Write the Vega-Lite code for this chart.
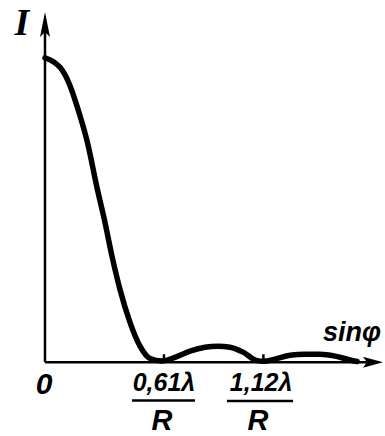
{
  "$schema": "https://vega.github.io/schema/vega-lite/v6.json",
  "width": 385,
  "height": 436,
  "autosize": {"type": "fit", "contains": "padding"},
  "padding": 0,
  "background": "white",
  "config": {"view": {"stroke": null}},
  "datasets": {
    "axes": [
      {"x": 0, "y": 0, "x2": 0, "y2": 1.1},
      {"x": 0, "y": 0, "x2": 1.68, "y2": 0},
      {"x": 0.61, "y": 0, "x2": 0.61, "y2": 0.026},
      {"x": 1.12, "y": 0, "x2": 1.12, "y2": 0.026}
    ],
    "bars": [
      {"x": 0.446, "y": -0.126, "x2": 0.769, "y2": -0.126},
      {"x": 0.933, "y": -0.128, "x2": 1.272, "y2": -0.128}
    ],
    "curve": [
      {"x": 0.0, "y": 1.0},
      {"x": 0.0256, "y": 0.9934},
      {"x": 0.0513, "y": 0.9836},
      {"x": 0.0769, "y": 0.9689},
      {"x": 0.1026, "y": 0.9443},
      {"x": 0.1282, "y": 0.9082},
      {"x": 0.1538, "y": 0.8623},
      {"x": 0.1795, "y": 0.8098},
      {"x": 0.2154, "y": 0.7279},
      {"x": 0.2667, "y": 0.5738},
      {"x": 0.3077, "y": 0.459},
      {"x": 0.3436, "y": 0.348},
      {"x": 0.3846, "y": 0.239},
      {"x": 0.4359, "y": 0.131},
      {"x": 0.4872, "y": 0.0525},
      {"x": 0.5385, "y": 0.012},
      {"x": 0.6, "y": 0.004},
      {"x": 0.6667, "y": 0.016},
      {"x": 0.7436, "y": 0.036},
      {"x": 0.8205, "y": 0.049},
      {"x": 0.8872, "y": 0.0525},
      {"x": 0.9487, "y": 0.049},
      {"x": 1.0154, "y": 0.033},
      {"x": 1.0872, "y": 0.005},
      {"x": 1.12, "y": 0.003},
      {"x": 1.1795, "y": 0.01},
      {"x": 1.2564, "y": 0.023},
      {"x": 1.3333, "y": 0.026},
      {"x": 1.4103, "y": 0.026},
      {"x": 1.4872, "y": 0.02},
      {"x": 1.5641, "y": 0.007},
      {"x": 1.6, "y": 0.002}
    ],
    "arrowUp": [{"x": 0, "y": 1.11}],
    "arrowRight": [{"x": 1.682, "y": 0}],
    "labelI": [{"x": -0.118, "y": 1.111, "t": "I"}],
    "labelZero": [{"x": -0.005, "y": -0.075, "t": "0"}],
    "labelNum": [
      {"x": 0.61, "y": -0.069, "t": "0,61λ"},
      {"x": 1.108, "y": -0.069, "t": "1,12λ"}
    ],
    "labelDen": [
      {"x": 0.6, "y": -0.193, "t": "R"},
      {"x": 1.092, "y": -0.193, "t": "R"}
    ],
    "labelSin": [{"x": 1.574, "y": 0.095, "t": "sinφ"}]
  },
  "layer": [
    {
      "data": {"name": "axes"},
      "mark": {"type": "rule", "color": "#000", "strokeWidth": 2.5},
      "encoding": {
        "x": {"field": "x", "type": "quantitative", "scale": {"domain": [-0.23077, 1.74359], "nice": false, "zero": false}, "axis": null},
        "y": {"field": "y", "type": "quantitative", "scale": {"domain": [-0.23934, 1.19016], "nice": false, "zero": false}, "axis": null},
        "x2": {"field": "x2"},
        "y2": {"field": "y2"}
      }
    },
    {
      "data": {"name": "bars"},
      "mark": {"type": "rule", "color": "#000", "strokeWidth": 2.5},
      "encoding": {
        "x": {"field": "x", "type": "quantitative"},
        "y": {"field": "y", "type": "quantitative"},
        "x2": {"field": "x2"},
        "y2": {"field": "y2"}
      }
    },
    {
      "data": {"name": "curve"},
      "mark": {"type": "line", "color": "#000", "strokeWidth": 5.5, "interpolate": "monotone", "strokeCap": "round"},
      "encoding": {
        "x": {"field": "x", "type": "quantitative"},
        "y": {"field": "y", "type": "quantitative"}
      }
    },
    {
      "data": {"name": "arrowUp"},
      "mark": {"type": "point", "filled": true, "color": "#000", "opacity": 1, "size": 625, "shape": "M0,-1L0.4,1L0,0.6L-0.4,1Z"},
      "encoding": {
        "x": {"field": "x", "type": "quantitative"},
        "y": {"field": "y", "type": "quantitative"}
      }
    },
    {
      "data": {"name": "arrowRight"},
      "mark": {"type": "point", "filled": true, "color": "#000", "opacity": 1, "size": 400, "shape": "M1,0L-1,0.55L-0.6,0L-1,-0.55Z"},
      "encoding": {
        "x": {"field": "x", "type": "quantitative"},
        "y": {"field": "y", "type": "quantitative"}
      }
    },
    {
      "data": {"name": "labelI"},
      "mark": {"type": "text", "font": "Liberation Serif", "fontStyle": "italic", "fontWeight": "bold", "fontSize": 38, "align": "center", "baseline": "middle", "color": "#000"},
      "encoding": {
        "x": {"field": "x", "type": "quantitative"},
        "y": {"field": "y", "type": "quantitative"},
        "text": {"field": "t"}
      }
    },
    {
      "data": {"name": "labelZero"},
      "mark": {"type": "text", "font": "Liberation Sans", "fontStyle": "italic", "fontWeight": "bold", "fontSize": 30, "align": "center", "baseline": "middle", "color": "#000"},
      "encoding": {
        "x": {"field": "x", "type": "quantitative"},
        "y": {"field": "y", "type": "quantitative"},
        "text": {"field": "t"}
      }
    },
    {
      "data": {"name": "labelNum"},
      "mark": {"type": "text", "font": "Liberation Sans", "fontStyle": "italic", "fontWeight": "bold", "fontSize": 25, "align": "center", "baseline": "middle", "color": "#000"},
      "encoding": {
        "x": {"field": "x", "type": "quantitative"},
        "y": {"field": "y", "type": "quantitative"},
        "text": {"field": "t"}
      }
    },
    {
      "data": {"name": "labelDen"},
      "mark": {"type": "text", "font": "Liberation Sans", "fontStyle": "italic", "fontWeight": "bold", "fontSize": 29, "align": "center", "baseline": "middle", "color": "#000"},
      "encoding": {
        "x": {"field": "x", "type": "quantitative"},
        "y": {"field": "y", "type": "quantitative"},
        "text": {"field": "t"}
      }
    },
    {
      "data": {"name": "labelSin"},
      "mark": {"type": "text", "font": "Liberation Sans", "fontStyle": "italic", "fontWeight": "bold", "fontSize": 27, "align": "center", "baseline": "middle", "color": "#000"},
      "encoding": {
        "x": {"field": "x", "type": "quantitative"},
        "y": {"field": "y", "type": "quantitative"},
        "text": {"field": "t"}
      }
    }
  ]
}
